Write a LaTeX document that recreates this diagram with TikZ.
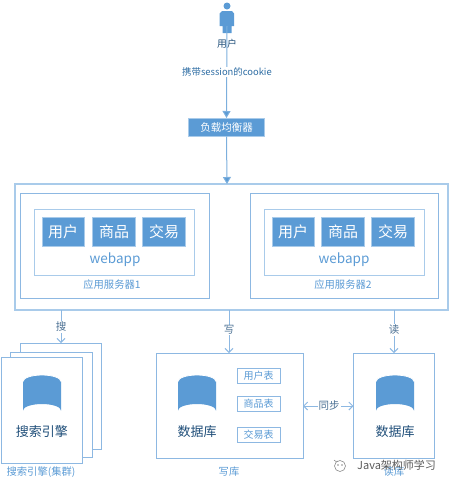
\documentclass[tikz,border=0pt]{standalone}
\usepackage{fontspec}
\setmainfont{Noto Sans CJK SC}
\usetikzlibrary{arrows.meta,shapes.geometric}
\definecolor{fillb}{HTML}{5B9BD5}
\definecolor{lineb}{HTML}{8DB8E2}
\definecolor{lineo}{HTML}{A9CBEA}
\definecolor{darkt}{HTML}{1F4E79}
\definecolor{midt}{HTML}{2E6DA4}
\tikzset{
 box/.style={draw=lineb,line width=1pt,fill=white,inner sep=0pt},
 appbox/.style={draw=lineo,line width=.8pt,fill=fillb,text=white,font=\fontsize{15}{16}\selectfont,inner sep=0pt},
 tbl/.style={text=fillb,font=\fontsize{10}{11}\selectfont,inner sep=0pt},
 lab/.style={text=fillb,font=\fontsize{10.3}{11}\selectfont,inner sep=1pt},
 webl/.style={text=fillb,font=\fontsize{13.5}{14}\selectfont,inner sep=0pt},
 dbtxt/.style={text=darkt,font=\fontsize{13}{14}\selectfont,inner sep=0pt},
 conl/.style={fill=white,text=darkt!80!white,font=\fontsize{10.5}{11}\selectfont,inner sep=1pt},
 conn/.style={draw=fillb!80!white,line width=1pt},
 solidarr/.style={conn,-{Triangle[length=7pt,width=8pt,fill=fillb]}},
 openarr/.style={draw=lineb,line width=1pt,-{Straight Barb[length=4pt,width=8pt]}},
 dbl/.style={draw=lineb,line width=1pt,{Straight Barb[length=4pt,width=8pt]}-{Straight Barb[length=4pt,width=8pt]}},
}
\newcommand{\cyl}[2]{%
 \fill[fillb] (#1-19,#2-27.5) -- (#1-19,#2+1.5) arc[x radius=19,y radius=6.5,start angle=180,end angle=360] -- (#1+19,#2-27.5) -- cycle;
 \fill[fillb] (#1,#2-27.5) ellipse[x radius=19,y radius=6.5];
 \draw[white,line width=.8pt] (#1-19,#2-27.5) arc[x radius=19,y radius=6.5,start angle=180,end angle=360];
}
\newcommand{\bx}[6]{\node[box,minimum width=#3-#1,minimum height=#4-#2,#6] (#5) at ({(#1+#3)/2},{(#2+#4)/2}) {};}
\begin{document}
\begin{tikzpicture}[x=1pt,y=-1pt]
\useasboundingbox (0,0) rectangle (449,485);
% person
\fill[fillb] (227,6) circle (3.5);
\fill[fillb] (222,11) -- (232,11) -- (234,13.5) -- (234,26) -- (231.5,26) -- (231.5,33) -- (222.5,33) -- (222.5,26) -- (219.5,26) -- (219.5,13.5) -- cycle;
\coordinate (user) at (227,26);
% load balancer
\bx{188.5}{118.5}{264.5}{136}{lb}{fill=fillb,draw=lineo}
\node[text=white,font=\fontsize{10.5}{11}\selectfont] at (lb) {负载均衡器};
% outer
\bx{15}{184}{448}{310}{outer}{draw=lineo,line width=1.2pt}
\coordinate (outerA) at (227,184);
% connectors top
\draw[solidarr] (user) -- (lb.north);
\node[fill=white,text=midt,font=\fontsize{9.4}{10}\selectfont,inner sep=1pt] (cookie) at (227,72) {携带session的cookie};
\node[text=darkt,font=\fontsize{9.8}{10}\selectfont,inner sep=0pt] (userl) at (227,44) {用户};
\draw[solidarr] (lb.south) -- (outerA);
% servers
\bx{20.5}{193.5}{209}{298.5}{srv1}{}
\bx{34}{209}{194.5}{275}{web1}{draw=lineo}
\bx{250}{193.5}{438.5}{298.5}{srv2}{}
\bx{264}{209}{424}{275}{web2}{draw=lineo}
\node[appbox,minimum width=42,minimum height=29] (a1) at (63,231.5) {用户};
\node[appbox,minimum width=42.5,minimum height=29] (a2) at (114,231.5) {商品};
\node[appbox,minimum width=42.5,minimum height=29] (a3) at (164,231.5) {交易};
\node[appbox,minimum width=42,minimum height=29] (b1) at (293,231.5) {用户};
\node[appbox,minimum width=42.5,minimum height=29] (b2) at (343,231.5) {商品};
\node[appbox,minimum width=42.5,minimum height=29] (b3) at (393,231.5) {交易};
\node[webl] (w1) at (115,260) {webapp};
\node[webl] (w2) at (344,260) {webapp};
\node[lab] (s1l) at (112,285) {应用服务器1};
\node[lab] (s2l) at (343,285) {应用服务器2};
% search cluster
\bx{20}{343}{101}{449}{se3}{}
\bx{10.5}{352}{92}{457}{se2}{}
\bx{1.5}{357.5}{82.5}{463}{se1}{}
\cyl{42}{409}
\node[dbtxt] (se) at (42,432) {搜索引擎};
\node[lab] (sel) at (41,472) {搜索引擎(集群)};
% write db
\bx{156}{353}{303}{458}{wdb}{}
\cyl{197}{409}
\node[dbtxt] (wd) at (197,432) {数据库};
\bx{237}{368}{280}{383}{t1}{}
\bx{237}{396}{280}{411}{t2}{}
\bx{237}{427}{280}{442}{t3}{}
\node[tbl] at (t1) {用户表};
\node[tbl] at (t2) {商品表};
\node[tbl] at (t3) {交易表};
\node[lab] (wl) at (229,472) {写库};
% read db
\bx{353.5}{353}{434.5}{458}{rdb}{}
\cyl{395}{409}
\node[dbtxt] (rd) at (395,432) {数据库};
\node[lab] (rl) at (394,472) {读库};
% connectors bottom
\coordinate (o1) at (61,310); \coordinate (o1e) at (61,343);
\coordinate (o2) at (229,310); \coordinate (o2e) at (229,353);
\coordinate (o3) at (394,310); \coordinate (o3e) at (394,353);
\coordinate (syncl) at (303,406); \coordinate (syncr) at (353.5,406);
\draw[openarr] (o1) -- (o1e);
\draw[openarr] (o2) -- (o2e);
\draw[openarr] (o3) -- (o3e);
\node[conl] (c1) at (61,327) {搜};
\node[conl] (c2) at (229,330) {写};
\node[conl] (c3) at (394,330) {读};
\draw[dbl] (syncl) -- (syncr);
\node[conl] (c4) at (329,406) {同步};
% watermark
\node[text=black!65,font=\fontsize{11}{12}\selectfont,inner sep=0pt,anchor=west] (wm) at (357,465) {Java架构师学习};
\draw[black!45,line width=.6pt] (340,466) circle (5.5);
\fill[black!45] (338,465) circle (.8) (342,465) circle (.8);
\draw[black!45,line width=.6pt] (334,460) arc[start angle=150,end angle=60,radius=3];
\end{tikzpicture}
\end{document}
